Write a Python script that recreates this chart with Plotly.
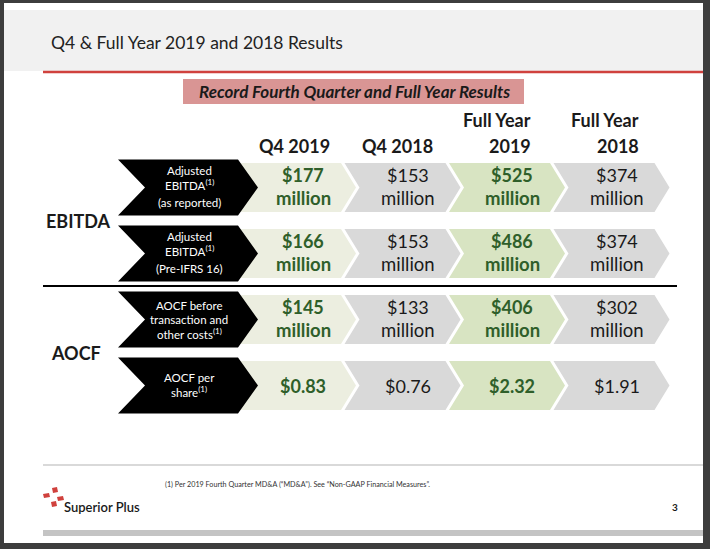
import plotly.graph_objects as go

# ---------------- data ----------------
title_text = "Q4 & Full Year 2019 and 2018 Results"
banner_text = "Record Fourth Quarter and Full Year Results"
columns = [["Q4 2019"], ["Q4 2018"], ["Full Year", "2019"], ["Full Year", "2018"]]
col_highlight = [1, 0, 2, 0]   # 1 = light green, 2 = green, 0 = grey

groups = ["EBITDA", "AOCF"]
group_rows = [[0, 1], [2, 3]]

row_labels = [
    ["Adjusted", "EBITDA<sup>(1)</sup>", "(as reported)"],
    ["Adjusted", "EBITDA<sup>(1)</sup>", "(Pre-IFRS 16)"],
    ["AOCF before", "transaction and", "other costs<sup>(1)</sup>"],
    ["AOCF per", "share<sup>(1)</sup>"],
]
ebitda_reported = [177, 153, 525, 374]
ebitda_pre_ifrs16 = [166, 153, 486, 374]
aocf_before_costs = [145, 133, 406, 302]
aocf_per_share = [0.83, 0.76, 2.32, 1.91]
row_values = [ebitda_reported, ebitda_pre_ifrs16, aocf_before_costs, aocf_per_share]
row_in_millions = [True, True, True, False]

footnote = "(1) Per 2019 Fourth Quarter MD&A (\u201cMD&A\u201d). See \u201cNon-GAAP Financial Measures\u201d."
company = "Superior Plus"
page_no = "3"

# ---------------- style ----------------
W, H = 710, 549
FONT = "Lato"
GREEN_TXT = "#2f5f2a"
FILL = {0: "#d9d9d9", 1: "#eceee0", 2: "#d8e4c2"}

shapes = []
annos = []


def rect(x0, y0, x1, y1, color, layer="below"):
    shapes.append(dict(type="rect", xref="x", yref="y", x0=x0, y0=y0, x1=x1, y1=y1,
                       fillcolor=color, line=dict(width=0), layer=layer))


def line(x0, y0, x1, y1, color, width):
    shapes.append(dict(type="line", xref="x", yref="y", x0=x0, y0=y0, x1=x1, y1=y1,
                       line=dict(color=color, width=width), layer="below"))


def chevron(x0, wbody, notch, point, yc, h, color):
    y0, y1 = yc - h / 2, yc + h / 2
    p = (f"M {x0},{y0} L {x0 + wbody},{y0} L {x0 + wbody + point},{yc} "
         f"L {x0 + wbody},{y1} L {x0},{y1} L {x0 + notch},{yc} Z")
    shapes.append(dict(type="path", xref="x", yref="y", path=p, fillcolor=color,
                       line=dict(width=0), layer="below"))


def text(x, y, s, size, color="#1a1a1a", bold=False, italic=False, xanchor="center",
         family=FONT, weight=None):
    if bold:
        s = f"<b>{s}</b>"
    if italic:
        s = f"<i>{s}</i>"
    f = dict(family=family, size=size, color=color)
    if weight is not None:
        f["weight"] = weight
    annos.append(dict(x=x, y=y, xref="x", yref="y", text=s, showarrow=False,
                      xanchor=xanchor, yanchor="middle", font=f))


# frame and header
rect(4, 3, 703, 543, "white")
rect(4, 10, 703, 71, "#f1f1f1")
line(43, 72, 703, 72, "#d0413d", 2.5)
text(49, 42, title_text, 17.5, color="#222222", xanchor="left")

# banner
rect(183, 79, 524, 104, "#d99594")
text(354, 91.5, banner_text, 17, color="#1a1a1a", bold=True, italic=True)

# column headers
col_x0 = [240, 344.5, 449, 553.5]
BODY, NOTCH, POINT = 101, 15, 15
head_right = [None, None, 533, 641]
head_center = [294, 397, None, None]
for i, lines in enumerate(columns):
    ys = [146] if len(lines) == 1 else [120, 146]
    for ln, yy in zip(lines, ys):
        if head_center[i] is not None:
            text(head_center[i], yy, ln, 18, bold=True)
        else:
            text(head_right[i], yy, ln, 18, bold=True, xanchor="right")

# rows
row_centers = [187.5, 253.5, 319.5, 385.5]
for r, yc in enumerate(row_centers):
    # coloured value chevrons
    for c, x0 in enumerate(col_x0):
        chevron(x0, BODY, NOTCH, POINT, yc, 49, FILL[col_highlight[c]])
        v = row_values[r][c]
        xc = x0 + 63
        hi = col_highlight[c] > 0
        col = GREEN_TXT if hi else "#1a1a1a"
        if row_in_millions[r]:
            text(xc, yc - 12.5, f"${v}", 18, color=col, bold=hi)
            text(xc, yc + 10.5, "million", 18.5, color=col, bold=hi)
        else:
            text(xc, yc, f"${v:.2f}", 18, color=col, bold=hi)
    # black label chevron
    chevron(118, 120, 27, 20, yc, 56, "#000000")
    lbl = row_labels[r]
    if len(lbl) == 2:
        offs = [-8, 6]
    elif lbl[2].startswith("("):
        offs = [-17, -3, 15]
    else:
        offs = [-14, 0, 14]
    for ln, o in zip(lbl, offs):
        text(189, yc + o, ln, 11.5, color="white")

# group labels and separator
line(43, 286, 677, 286, "#000000", 2)
group_x = [78, 76]
for g, rows in enumerate(group_rows):
    yc = (row_centers[rows[0]] + row_centers[rows[1]]) / 2
    text(group_x[g], yc, groups[g], 18, bold=True)

# footer
line(43, 465, 703, 465, "#cccccc", 1.5)
text(163, 484, footnote, 7.2, color="#333333", xanchor="left")
rect(43, 530, 703, 536, "#c4c4c4")
text(675, 507, page_no, 10, bold=True)
text(62, 507, company, 13, color="#1a1a1a", xanchor="left", weight=600)
# logo marks
for (xa, ya, xb, yb) in [(52, 487, 58, 493), (43, 493, 50, 498), (57, 496, 64, 501), (51, 501, 57, 507)]:
    shapes.append(dict(type="path", xref="x", yref="y",
                       path=f"M {xa},{ya + 1} L {xb - 1},{ya} L {xb},{yb - 1} L {xa + 1},{yb} Z",
                       fillcolor="#d0413d", line=dict(width=0), layer="below"))

fig = go.Figure()
fig.update_layout(
    width=W, height=H, margin=dict(l=0, r=0, t=0, b=0),
    paper_bgcolor="#3d3d3d", plot_bgcolor="rgba(0,0,0,0)",
    xaxis=dict(range=[0, W], visible=False, fixedrange=True),
    yaxis=dict(range=[H, 0], visible=False, fixedrange=True),
    shapes=shapes, annotations=annos, showlegend=False,
)
fig.write_html("out.html", config={"displayModeBar": False},
               post_script="document.body.style.margin='0px';document.body.style.overflow='hidden';")
